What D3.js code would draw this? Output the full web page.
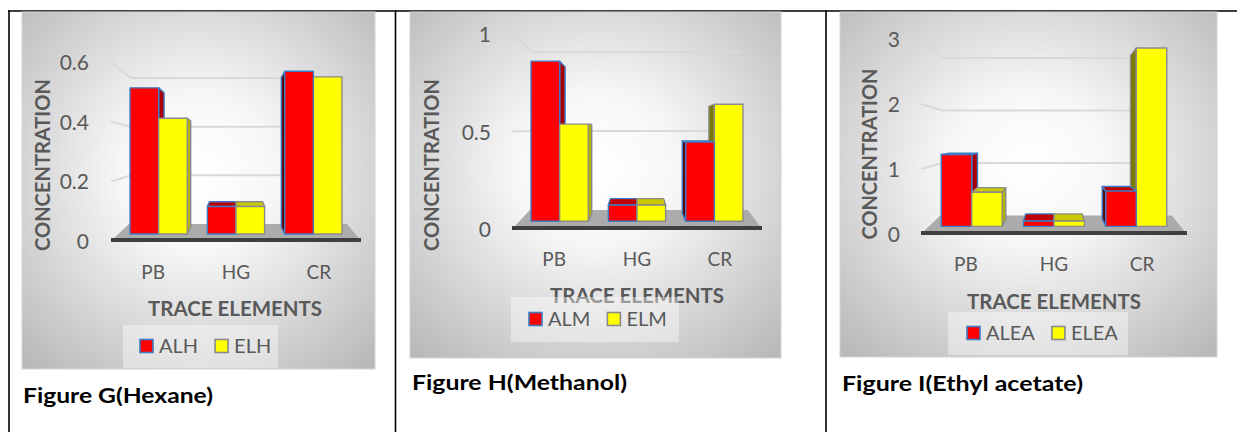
<!DOCTYPE html>
<html><head><meta charset="utf-8">
<script src="https://cdn.jsdelivr.net/npm/d3@7"></script>
<style>
body{margin:0;background:#fff;}
svg{display:block;}
text{font-family:Lato,"Open Sans",sans-serif;}
</style>
</head><body>
<svg id="c" width="1237" height="432"></svg>
<script>
// ---------- data ----------
const categories = ["PB", "HG", "CR"];

const hexaneSeries = ["ALH", "ELH"];
const hexaneALH = [0.53, 0.10, 0.59];
const hexaneELH = [0.42, 0.10, 0.57];
const hexaneTicks = [0, 0.2, 0.4, 0.6];
const hexaneTickLabels = ["0", "0.2", "0.4", "0.6"];

const methanolSeries = ["ALM", "ELM"];
const methanolALM = [0.89, 0.09, 0.44];
const methanolELM = [0.54, 0.09, 0.65];
const methanolTicks = [0, 0.5, 1];
const methanolTickLabels = ["0", "0.5", "1"];

const ethylSeries = ["ALEA", "ELEA"];
const ethylALEA = [1.2, 0.09, 0.59];
const ethylELEA = [0.57, 0.09, 2.98];
const ethylTicks = [0, 1, 2, 3];
const ethylTickLabels = ["0", "1", "2", "3"];

const yTitle = "CONCENTRATION";
const xTitle = "TRACE ELEMENTS";
const captions = ["Figure G(Hexane)", "Figure H(Methanol)", "Figure I(Ethyl acetate)"];

// ---------- layout (positions only) ----------
const layouts = [
  {box:[22,12,353,357], fL:111, fR:361, base:241, top:62, bBase:224, bTop:78,
   tickRight:89, catY:272, yT:[43,165,172], xT:[235,309,174], leg:[123,325,155,43], legX:140, legY:346,
   cap:[23,395,190]},
  {box:[410,12,371,346], fL:512, fR:762, base:229, top:34, bBase:210, bTop:52,
   tickRight:491, catY:259, yT:[432,165,172], xT:[637,296,174], leg:[511,297,168,45], legX:529, legY:319,
   cap:[412,382,215]},
  {box:[840,12,377,345], fL:921, fR:1187, base:234, top:39, bBase:215.5, bTop:58,
   tickRight:900, catY:264, yT:[870,154,171], xT:[1054,302,174], leg:[948,312,180,43], legX:967, legY:333,
   cap:[842,383,241]}
];

const charts = [
  {series: hexaneSeries, values: [hexaneALH, hexaneELH], ticks: hexaneTicks, tickLabels: hexaneTickLabels, caption: captions[0]},
  {series: methanolSeries, values: [methanolALM, methanolELM], ticks: methanolTicks, tickLabels: methanolTickLabels, caption: captions[1]},
  {series: ethylSeries, values: [ethylALEA, ethylELEA], ticks: ethylTicks, tickLabels: ethylTickLabels, caption: captions[2]}
];

const svg = d3.select("#c");
const defs = svg.append("defs");
const TXT = "#595959";

// table borders
const table = svg.append("g").attr("stroke", "#000").attr("stroke-width", 1.6);
table.append("line").attr("x1", 8).attr("x2", 1237).attr("y1", 11).attr("y2", 11);
[9, 395.5, 826].forEach(x => table.append("line").attr("x1", x).attr("x2", x).attr("y1", 10.2).attr("y2", 432));

const faceStyles = [
  {front: "#ff0000", right: "#a80000", left: "#5c0a0a", top: "#c00000", stroke: "#3d7cc4"},
  {front: "#ffff00", right: "#b3b300", left: "#7a7a00", top: "#c9c900", stroke: "#8a8a8a"}
];

charts.forEach((ch, ci) => {
  const L = layouts[ci];
  const g = svg.append("g");
  const ymax = d3.max(ch.ticks);

  // background gradient
  const gid = "bg" + ci;
  const rg = defs.append("radialGradient").attr("id", gid).attr("cx", "50%").attr("cy", "45%").attr("r", "72%");
  rg.append("stop").attr("offset", "0%").attr("stop-color", "#ffffff");
  rg.append("stop").attr("offset", "30%").attr("stop-color", "#f7f7f7");
  rg.append("stop").attr("offset", "100%").attr("stop-color", "#b9b9b9");
  g.append("rect").attr("x", L.box[0]).attr("y", L.box[1]).attr("width", L.box[2]).attr("height", L.box[3])
    .attr("fill", `url(#${gid})`).attr("stroke", "#d4d4d4").attr("stroke-width", 1);

  // pseudo-3D projection helpers
  const yFront = d3.scaleLinear().domain([0, ymax]).range([L.base, L.top]);
  const yBack = d3.scaleLinear().domain([0, ymax]).range([L.bBase, L.bTop]);
  const yAt = (v, z) => yFront(v) * (1 - z) + yBack(v) * z;
  const vx = (L.fL + L.fR) / 2, kx = 0.84;
  const xAt = (xf, z) => vx + (xf - vx) * (1 - (1 - kx) * z);
  const x = d3.scaleBand().domain(categories).range([L.fL, L.fR]).paddingInner(0.26).paddingOuter(0.14);
  const xs = d3.scaleBand().domain(ch.series).range([0, x.bandwidth()]);
  const zf = 0.41, zb = 0.82;

  // gridlines (side wall + back wall)
  ch.ticks.filter(t => t > 0).forEach(t => {
    g.append("path")
      .attr("d", `M${L.fL},${yAt(t,0)}L${xAt(L.fL,1)},${yAt(t,1)}L${xAt(L.fR,1)},${yAt(t,1)}`)
      .attr("fill", "none").attr("stroke", "#d9d9d9").attr("stroke-width", 2);
  });

  // floor
  g.append("path")
    .attr("d", `M${L.fL},${yAt(0,0)}L${L.fR},${yAt(0,0)}L${xAt(L.fR,1)+6},${yAt(0,1)}L${xAt(L.fL,1)-2},${yAt(0,1)}Z`)
    .attr("fill", "#ababab");
  g.append("line").attr("x1", L.fL).attr("x2", L.fR).attr("y1", L.base - 1).attr("y2", L.base - 1)
    .attr("stroke", "#3f3f3f").attr("stroke-width", 4);

  // bars
  const bars = [];
  categories.forEach((c, i) => ch.series.forEach((s, j) => {
    const x0 = x(c) + xs(s), x1 = x0 + xs.bandwidth();
    bars.push({c, s, j, v: ch.values[j][i], x0, x1, dist: Math.abs((x0 + x1) / 2 - vx)});
  }));
  bars.sort((a, b) => b.dist - a.dist);
  const poly = pts => "M" + pts.map(p => p.join(",")).join("L") + "Z";
  bars.forEach(b => {
    const st = faceStyles[b.j];
    const bg = g.append("g").attr("stroke", st.stroke).attr("stroke-width", 1.4).attr("stroke-linejoin", "round");
    const v = b.v;
    if (b.x1 < vx) {
      bg.append("path").attr("fill", st.right).attr("d", poly([
        [xAt(b.x1,zf), yAt(0,zf)], [xAt(b.x1,zb), yAt(0,zb)], [xAt(b.x1,zb), yAt(v,zb)], [xAt(b.x1,zf), yAt(v,zf)]]));
    }
    if (b.x0 > vx) {
      bg.append("path").attr("fill", st.left).attr("d", poly([
        [xAt(b.x0,zf), yAt(0,zf)], [xAt(b.x0,zb), yAt(0,zb)], [xAt(b.x0,zb), yAt(v,zb)], [xAt(b.x0,zf), yAt(v,zf)]]));
    }
    if (yAt(v,zb) < yAt(v,zf)) {
      bg.append("path").attr("fill", st.top).attr("d", poly([
        [xAt(b.x0,zf), yAt(v,zf)], [xAt(b.x1,zf), yAt(v,zf)], [xAt(b.x1,zb), yAt(v,zb)], [xAt(b.x0,zb), yAt(v,zb)]]));
    }
    bg.append("path").attr("fill", st.front).attr("d", poly([
      [xAt(b.x0,zf), yAt(0,zf)], [xAt(b.x1,zf), yAt(0,zf)], [xAt(b.x1,zf), yAt(v,zf)], [xAt(b.x0,zf), yAt(v,zf)]]));
  });

  // y axis labels
  const ya = g.append("g").attr("transform", `translate(${L.tickRight},0)`)
    .call(d3.axisLeft(yFront).tickValues(ch.ticks).tickFormat((d, i) => ch.tickLabels[i]).tickSize(0).tickPadding(0));
  ya.select(".domain").remove();
  ya.selectAll("text").attr("fill", TXT).style("font-size", "21px").style("font-family", "Lato").attr("dy", "0.36em");

  // x axis labels
  const xa = g.append("g").attr("transform", `translate(0,${L.catY})`)
    .call(d3.axisBottom(x).tickSize(0).tickPadding(0));
  xa.select(".domain").remove();
  xa.selectAll("text").attr("fill", TXT).style("font-size", "19px").style("font-family", "Lato")
    .attr("y", 0).attr("dy", "0.36em");

  // axis titles
  g.append("text").attr("transform", `translate(${L.yT[0]},${L.yT[1]}) rotate(-90)`)
    .attr("text-anchor", "middle").attr("dy", "0.36em").attr("fill", TXT)
    .style("font-size", "20px").style("font-weight", "bold")
    .attr("textLength", L.yT[2]).attr("lengthAdjust", "spacingAndGlyphs").text(yTitle);
  g.append("text").attr("x", L.xT[0]).attr("y", L.xT[1])
    .attr("text-anchor", "middle").attr("dy", "0.36em").attr("fill", TXT)
    .style("font-size", "20px").style("font-weight", "bold")
    .attr("textLength", L.xT[2]).attr("lengthAdjust", "spacingAndGlyphs").text(xTitle);

  // legend
  g.append("rect").attr("x", L.leg[0]).attr("y", L.leg[1]).attr("width", L.leg[2]).attr("height", L.leg[3])
    .attr("fill", "#ffffff").attr("fill-opacity", 0.4);
  let lx = L.legX;
  ch.series.forEach((s, j) => {
    const st = faceStyles[j];
    g.append("rect").attr("x", lx).attr("y", L.legY - 6.5).attr("width", 13).attr("height", 13)
      .attr("fill", st.front).attr("stroke", st.stroke).attr("stroke-width", 1.6);
    const t = g.append("text").attr("x", lx + 19).attr("y", L.legY).attr("dy", "0.36em").attr("fill", TXT)
      .style("font-size", "20px").text(s);
    lx = lx + 19 + t.node().getComputedTextLength() + 17;
  });

  // caption
  svg.append("text").attr("x", L.cap[0]).attr("y", L.cap[1]).attr("dy", "0.36em").attr("fill", "#000")
    .style("font-size", "21px").style("font-weight", "bold")
    .attr("textLength", L.cap[2]).attr("lengthAdjust", "spacingAndGlyphs").text(ch.caption);
});
</script>
</body></html>
